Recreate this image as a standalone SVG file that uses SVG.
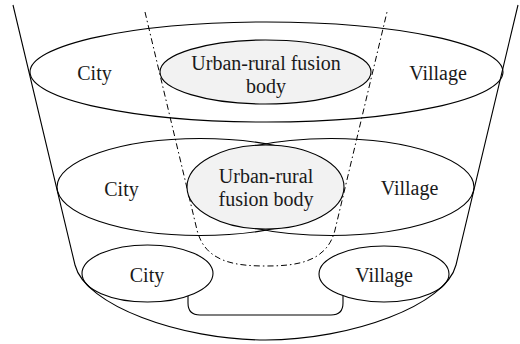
<svg xmlns="http://www.w3.org/2000/svg" width="520" height="344" viewBox="0 0 520 344">
  <style>
    .ln { fill: none; stroke: #000; stroke-width: 1.1; }
    .dd { fill: none; stroke: #000; stroke-width: 1; stroke-dasharray: 6 3 1.5 3; }
    .fuse { fill: #f2f2f2; stroke: #000; stroke-width: 1.1; }
    .t { font-family: 'Liberation Serif', 'Times New Roman', serif; font-size: 20px; fill: #1a1a1a; text-anchor: middle; }
  </style>
  <rect width="520" height="344" fill="#fff"/>

  <!-- outer bucket outline -->
  <g id="bucket">
    <path class="ln" d="M13,5 L75,265 C85,305 180,340 265.5,340 C351,340 446,305 456,265 L518,5"/>
  </g>

  <!-- dash-dot inner funnel and the bottom link -->
  <g id="connectors">
    <path class="dd" d="M145,12 L197,230 C205,262 235,266 266,266 C297,266 327,262 335,230 L387,12"/>
    <path class="ln" d="M188,296 L188,303 Q188,315 200,315 L331,315 Q343,315 343,303 L343,296"/>
  </g>

  <!-- top layer -->
  <g id="top-layer">
    <ellipse class="ln" cx="266.5" cy="72" rx="236.5" ry="50"/>
    <text class="t" x="94.5" y="80">City</text>
    <text class="t" x="438" y="80">Village</text>
  </g>
  <g id="top-fusion">
    <ellipse class="fuse" cx="265.5" cy="72" rx="105.5" ry="32"/>
    <text class="t" x="266" y="70">Urban-rural fusion</text>
    <text class="t" x="266" y="93">body</text>
  </g>

  <!-- middle layer: overlapping city and village -->
  <g id="mid-city">
    <ellipse class="ln" cx="200" cy="187" rx="143" ry="48.5"/>
    <text class="t" x="121.5" y="196">City</text>
  </g>
  <g id="mid-village">
    <ellipse class="ln" cx="331" cy="187" rx="143" ry="48.5"/>
    <text class="t" x="409.5" y="195">Village</text>
  </g>
  <g id="mid-fusion">
    <ellipse class="fuse" cx="265.5" cy="187" rx="78.5" ry="42"/>
    <text class="t" x="266" y="183">Urban-rural</text>
    <text class="t" x="266" y="206">fusion body</text>
  </g>

  <!-- bottom layer -->
  <g id="bottom-city">
    <ellipse class="ln" cx="147.5" cy="273.5" rx="65.5" ry="28.5"/>
    <text class="t" x="147" y="282">City</text>
  </g>
  <g id="bottom-village">
    <ellipse class="ln" cx="384" cy="274" rx="65" ry="28"/>
    <text class="t" x="384" y="282">Village</text>
  </g>
</svg>
